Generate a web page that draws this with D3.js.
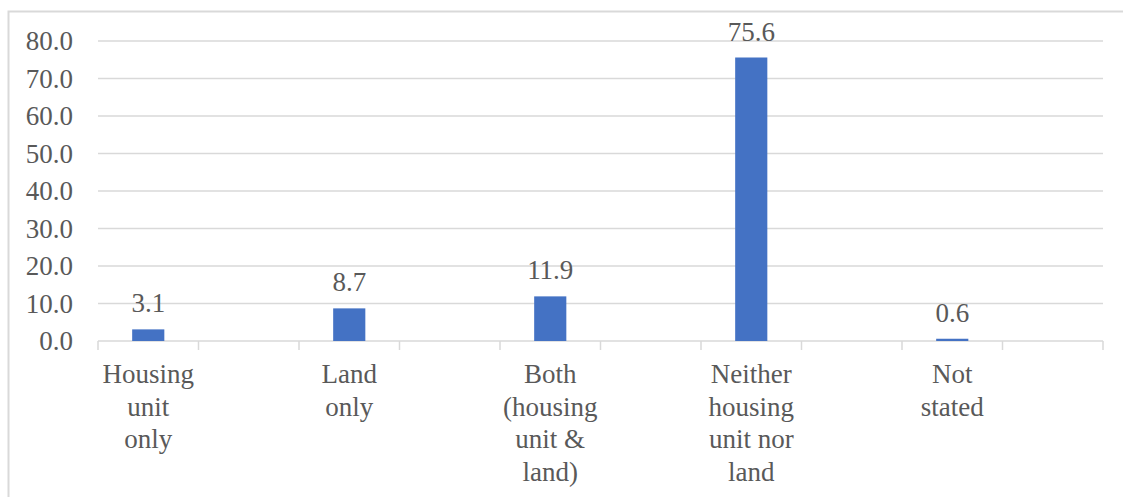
<!DOCTYPE html>
<html>
<head>
<meta charset="utf-8">
<script src="https://cdn.jsdelivr.net/npm/d3@7"></script>
</head>
<body style="margin:0">
<svg id="chart" width="1123" height="497"></svg>
<script>
// Category slots (blank slots sit between the labelled ones)
const categories = [
  ["Housing", "unit", "only"],
  [],
  ["Land", "only"],
  [],
  ["Both", "(housing", "unit &", "land)"],
  [],
  ["Neither", "housing", "unit nor", "land"],
  [],
  ["Not", "stated"],
  []
];
const values = [3.1, null, 8.7, null, 11.9, null, 75.6, null, 0.6, null];
const yTicks = [0, 10, 20, 30, 40, 50, 60, 70, 80];

const svg = d3.select("#chart");
const plot = { left: 98, right: 1103, top: 41, bottom: 341 };
const gridColor = "#d9d9d9";
const barColor = "#4472C4";
const textColor = "#595959";

function styleText(sel) {
  return sel.attr("font-family", "Liberation Serif")
    .style("font-family", '"Liberation Serif"')
    .style("font-size", "27px")
    .attr("fill", textColor);
}

// Outer chart frame
svg.append("rect")
  .attr("x", 8.5).attr("y", 11.5)
  .attr("width", 1300).attr("height", 700)
  .attr("fill", "none")
  .attr("stroke", gridColor)
  .attr("stroke-width", 2);

const x = d3.scaleBand()
  .domain(d3.range(categories.length))
  .range([plot.left, plot.right])
  .padding(0);

const y = d3.scaleLinear()
  .domain([0, 80])
  .range([plot.bottom, plot.top]);

// Horizontal gridlines
svg.append("g")
  .selectAll("line")
  .data(yTicks.filter(d => d !== 0))
  .join("line")
  .attr("x1", plot.left).attr("x2", plot.right)
  .attr("y1", d => y(d)).attr("y2", d => y(d))
  .attr("stroke", gridColor)
  .attr("stroke-width", 1.5);

// Y axis labels
const yAxis = d3.axisLeft(y)
  .tickValues(yTicks)
  .tickFormat(d3.format(".1f"))
  .tickSize(0)
  .tickPadding(25);
const gy = svg.append("g")
  .attr("transform", `translate(${plot.left},0)`)
  .call(yAxis);
gy.select(".domain").remove();
gy.attr("font-family", "Liberation Serif").attr("font-size", 27);
styleText(gy.selectAll("text"));

// X axis line with tick marks at slot boundaries
const gx = svg.append("g");
gx.append("line")
  .attr("x1", plot.left).attr("x2", plot.right)
  .attr("y1", plot.bottom).attr("y2", plot.bottom)
  .attr("stroke", gridColor)
  .attr("stroke-width", 1.5);
const boundaries = d3.range(categories.length + 1).map(i =>
  i < categories.length ? x(i) : x(categories.length - 1) + x.bandwidth());
gx.selectAll("line.tick")
  .data(boundaries)
  .join("line")
  .attr("class", "tick")
  .attr("x1", d => d).attr("x2", d => d)
  .attr("y1", plot.bottom).attr("y2", plot.bottom + 9)
  .attr("stroke", gridColor)
  .attr("stroke-width", 1.5);

// Category labels (multi-line)
const labelG = svg.append("g");
categories.forEach((lines, i) => {
  if (!lines.length) return;
  const cx = x(i) + x.bandwidth() / 2;
  const t = styleText(labelG.append("text"))
    .attr("text-anchor", "middle")
    .attr("x", cx)
    .attr("y", 383);
  lines.forEach((ln, j) => {
    t.append("tspan")
      .attr("x", cx)
      .attr("y", 383 + j * 32.5)
      .text(ln);
  });
});

// Bars
const barW = x.bandwidth() * 0.32;
const data = values.map((v, i) => ({ i, v })).filter(d => d.v !== null);
svg.append("g")
  .selectAll("rect")
  .data(data)
  .join("rect")
  .attr("x", d => x(d.i) + (x.bandwidth() - barW) / 2)
  .attr("y", d => y(d.v))
  .attr("width", barW)
  .attr("height", d => y(0) - y(d.v))
  .attr("fill", barColor);

// Value labels
styleText(svg.append("g")
  .selectAll("text")
  .data(data)
  .join("text"))
  .attr("text-anchor", "middle")
  .attr("x", d => x(d.i) + x.bandwidth() / 2)
  .attr("y", d => y(d.v) - 17)
  .text(d => d3.format(".1f")(d.v));
</script>
</body>
</html>
